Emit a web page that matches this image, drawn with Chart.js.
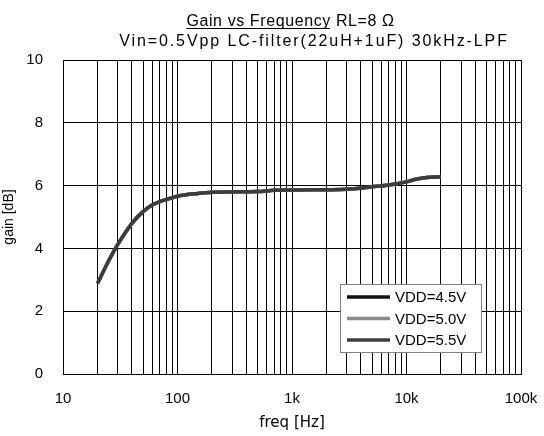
<!DOCTYPE html>
<html><head><meta charset="utf-8">
<script src="https://cdn.jsdelivr.net/npm/chart.js@4.4.1/dist/chart.umd.min.js"></script>
<style>html,body{margin:0;padding:0;background:#fff}</style></head>
<body>
<canvas id="c" width="544" height="436"></canvas>
<script>
// ---- data ----
const freqs      = [20, 25, 30, 35, 40, 50, 60, 70, 80, 90, 100, 150, 200, 300, 500, 700, 1000, 2000, 3000, 3500, 5000, 7000, 10000, 12000, 15000, 20000];
const gainVdd45  = [2.88, 3.6, 4.12, 4.5, 4.8, 5.17, 5.38, 5.49, 5.56, 5.61, 5.66, 5.75, 5.79, 5.8, 5.81, 5.85, 5.86, 5.87, 5.88, 5.9, 5.96, 6.02, 6.12, 6.2, 6.26, 6.28];
const gainVdd50  = [2.88, 3.6, 4.12, 4.5, 4.8, 5.17, 5.38, 5.49, 5.56, 5.61, 5.66, 5.75, 5.79, 5.8, 5.81, 5.85, 5.86, 5.87, 5.88, 5.9, 5.96, 6.02, 6.12, 6.2, 6.26, 6.28];
const gainVdd55  = [2.88, 3.6, 4.12, 4.5, 4.8, 5.17, 5.38, 5.49, 5.56, 5.61, 5.66, 5.75, 5.79, 5.8, 5.81, 5.85, 5.86, 5.87, 5.88, 5.9, 5.96, 6.02, 6.12, 6.2, 6.26, 6.28];
const seriesLabels = ['VDD=4.5V', 'VDD=5.0V', 'VDD=5.5V'];
const xGridValues = [10,20,30,40,50,60,70,80,90,100,200,300,400,500,600,700,800,900,1000,2000,3000,4000,5000,6000,7000,8000,9000,10000,20000,30000,40000,50000,60000,70000,80000,90000,100000];
const xTickLabels = {10:'10', 100:'100', 1000:'1k', 10000:'10k', 100000:'100k'};
const yTickValues = [0, 2, 4, 6, 8, 10];
const titleUnderlined = 'Gain vs Frequency';
const titleRest = ' RL=8 Ω';
const titleLine2 = 'Vin=0.5Vpp LC-filter(22uH+1uF) 30kHz-LPF';
const xAxisTitle = 'freq [Hz]';
const yAxisTitle = 'gain [dB]';

const toPts = g => freqs.map((f, i) => ({x: f, y: g[i]}));
const colors = ['#111111', '#8a8a8a', '#3c3c3c'];
const FONT = '"Liberation Sans", Arial, sans-serif';

const bgPlugin = {
  id: 'bg',
  beforeDraw(chart) {
    const c = chart.ctx; c.save(); c.fillStyle = '#fff';
    c.fillRect(0, 0, chart.width, chart.height); c.restore();
  }
};

const titlePlugin = {
  id: 'title2',
  afterDraw(chart) {
    const c = chart.ctx; c.save();
    c.font = '16px ' + FONT;
    c.fillStyle = '#000'; c.textBaseline = 'alphabetic'; c.textAlign = 'left';
    c.letterSpacing = '0.6px';
    const wU = c.measureText(titleUnderlined).width;
    const wR = c.measureText(titleRest).width;
    const x1 = 290.5 - (wU + wR) / 2;
    c.fillText(titleUnderlined, x1, 26);
    c.fillText(titleRest, x1 + wU, 26);
    c.strokeStyle = '#000'; c.lineWidth = 1;
    c.beginPath(); c.moveTo(x1, 28.5); c.lineTo(x1 + wU - 1, 28.5); c.stroke();
    c.letterSpacing = '1.9px';
    const w2 = c.measureText(titleLine2).width;
    c.fillText(titleLine2, 314 - w2 / 2, 46);
    c.restore();
  }
};

const legendPlugin = {
  id: 'legend2',
  afterDatasetsDraw(chart) {
    const c = chart.ctx; c.save();
    const bx = 340, by = 284, bw = 141, bh = 68;
    c.fillStyle = '#fff'; c.fillRect(bx, by, bw, bh);
    c.strokeStyle = '#808080'; c.lineWidth = 1;
    c.strokeRect(bx + 0.5, by + 0.5, bw, bh);
    c.font = '15px ' + FONT;
    c.textBaseline = 'middle'; c.textAlign = 'left'; c.fillStyle = '#000';
    chart.data.datasets.forEach((ds, i) => {
      const y = by + 13 + i * 21.5;
      c.strokeStyle = ds.borderColor; c.lineWidth = 3.5;
      c.beginPath(); c.moveTo(bx + 7, y); c.lineTo(bx + 50, y); c.stroke();
      c.fillText(ds.label, bx + 55, y + 1);
    });
    c.restore();
  }
};

new Chart(document.getElementById('c'), {
  type: 'line',
  data: {
    datasets: [
      {label: seriesLabels[0], data: toPts(gainVdd45), borderColor: colors[0], order: 2},
      {label: seriesLabels[1], data: toPts(gainVdd50), borderColor: colors[1], order: 1},
      {label: seriesLabels[2], data: toPts(gainVdd55), borderColor: colors[2], order: 0}
    ].map(d => Object.assign(d, {borderWidth: 3.5, pointRadius: 0, fill: false, cubicInterpolationMode: 'monotone'}))
  },
  options: {
    responsive: false, animation: false,
    layout: {padding: {top: 60, right: 0, left: 0, bottom: 0}},
    plugins: {legend: {display: false}, title: {display: false}, tooltip: {enabled: false}},
    scales: {
      x: {
        type: 'logarithmic', min: 10, max: 100000,
        afterBuildTicks: s => { s.ticks = xGridValues.map(v => ({value: v})); },
        afterFit: s => { s.height = 62; s.paddingLeft = 0; s.paddingRight = 23; },
        ticks: {
          autoSkip: false, maxRotation: 0, padding: 16, color: '#000',
          font: {family: FONT, size: 15},
          callback: v => xTickLabels[v] || ''
        },
        grid: {color: '#000', lineWidth: 1, drawTicks: false},
        border: {display: true, color: '#000', width: 1},
        title: {display: true, text: xAxisTitle, color: '#000', padding: {top: 0, bottom: 4},
                font: {family: '"DejaVu Sans", sans-serif', size: 15}}
      },
      y: {
        type: 'linear', min: 0, max: 10,
        afterBuildTicks: s => { s.ticks = yTickValues.map(v => ({value: v})); },
        afterFit: s => { s.width = 63; },
        ticks: {padding: 20, color: '#000', font: {family: FONT, size: 15}},
        grid: {color: '#000', lineWidth: 1, drawTicks: false},
        border: {display: true, color: '#000', width: 1},
        title: {display: true, text: yAxisTitle, color: '#000', padding: {top: 1, bottom: 9},
                font: {family: FONT, size: 14}}
      }
    }
  },
  plugins: [bgPlugin, titlePlugin, legendPlugin]
});
</script>
</body></html>
